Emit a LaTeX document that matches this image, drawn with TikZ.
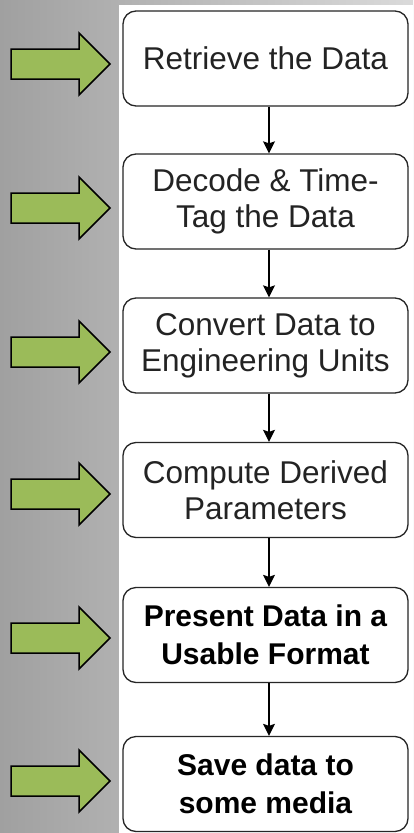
\documentclass[tikz,border=0pt]{standalone}
\usepackage{fontspec}
\setmainfont{Liberation Sans}
\usetikzlibrary{arrows.meta}
\definecolor{gleft}{RGB}{160,160,160}
\definecolor{gright}{RGB}{218,218,218}
\definecolor{agreen}{RGB}{155,187,89}
\definecolor{txt}{RGB}{35,35,35}
\begin{document}
\begin{tikzpicture}[x=1pt,y=-1pt,
  stepbox/.style={draw=black!85, line width=1.3pt, rounded corners=13pt, fill=white,
    minimum width=285pt, minimum height=95pt, inner sep=0pt, align=center,
    text=txt, font=\fontsize{31.5}{36}\selectfont},
  boldbox/.style={stepbox, text=black, font=\fontsize{30}{38}\selectfont\bfseries},
  link/.style={line width=1.3pt, -{Stealth[length=12pt,width=12pt,inset=2pt]}},
  garrowstyle/.style={draw=black, line width=1.5pt, fill=agreen, line join=miter},
  garrow/.pic={\path[garrowstyle] (-99,15) -- (-31,15) -- (-31,31) -- (0,0) -- (-31,-31) -- (-31,-15) -- (-99,-15) -- cycle;}
]
\useasboundingbox (0,0) rectangle (413,833);
\shade[left color=gleft, right color=gright] (0,0) rectangle (413,833);
\fill[white] (119,5) rectangle (413,833);

\node[stepbox] (b1) at (265.5,58.5) {Retrieve the Data};
\node[stepbox] (b2) at (265.5,201.5) {Decode \& Time-\\Tag the Data};
\node[stepbox] (b3) at (265.5,345.5) {Convert Data to\\Engineering Units};
\node[stepbox] (b4) at (265.5,490) {Compute Derived\\Parameters};
\node[boldbox] (b5) at (265.5,635) {Present Data in a\\Usable Format};
\node[boldbox] (b6) at (265.5,784) {Save data to\\some media};

\draw[link] ([xshift=3.5pt]b1.south) -- ([xshift=3.5pt]b2.north);
\draw[link] ([xshift=3.5pt]b2.south) -- ([xshift=3.5pt]b3.north);
\draw[link] ([xshift=3.5pt]b3.south) -- ([xshift=3.5pt]b4.north);
\draw[link] ([xshift=3.5pt]b4.south) -- ([xshift=3.5pt]b5.north);
\draw[link] ([xshift=3.5pt]b5.south) -- ([xshift=3.5pt]b6.north);

\pic at (110,64) {garrow};
\pic at (110,208) {garrow};
\pic at (110,352) {garrow};
\pic at (110,494) {garrow};
\pic at (110,638) {garrow};
\pic at (110,781) {garrow};
\end{tikzpicture}
\end{document}
